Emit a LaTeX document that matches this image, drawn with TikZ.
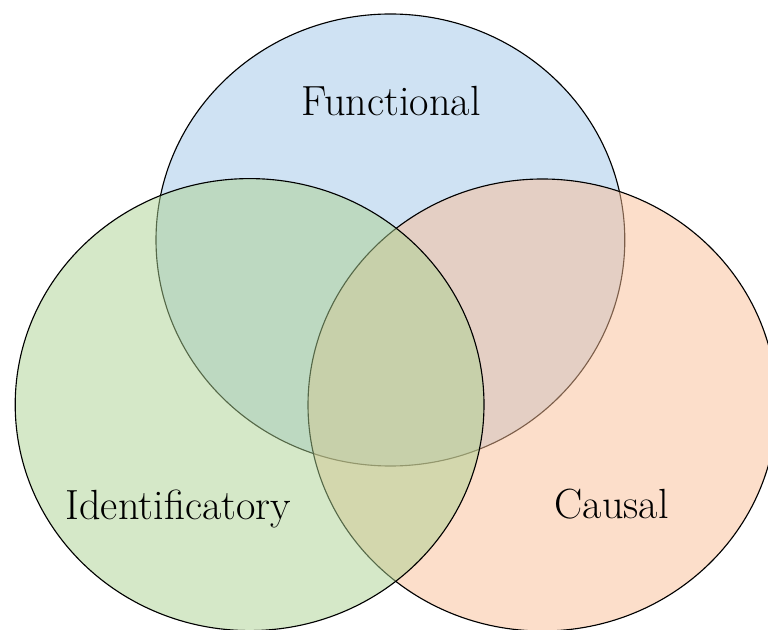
\documentclass[tikz,border=0pt]{standalone}
\usepackage{tikz}
\usetikzlibrary{shapes.geometric}
\definecolor{funcblue}{RGB}{159,197,231}
\definecolor{causorange}{RGB}{249,189,149}
\definecolor{identgreen}{RGB}{171,209,145}

\begin{document}
\begin{tikzpicture}
	\tikzset{
	venn/.style={ellipse, draw=black, line width=0.8pt, fill opacity=0.5,
		inner sep=0pt, minimum width=11.72cm, minimum height=11.3cm},
	setlabel/.style={anchor=base, font=\fontsize{30}{36}\selectfont},
	}
	\useasboundingbox (0,0) rectangle (19.2,15.725);
	\node[venn, fill=funcblue] (funcset) at (9.76, 9.725) {};
	\node[venn, fill=causorange] (causset) at (13.56, 5.6) {};
	\node[venn, fill=identgreen] (identset) at (6.24, 5.61) {};
	\node[setlabel] (func) at (9.78, 12.825) {Functional};
	\node[setlabel] (ident) at (4.46, 2.75) {Identificatory};
	\node[setlabel] (causal) at (15.29, 2.775) {Causal};
\end{tikzpicture}
\end{document}
